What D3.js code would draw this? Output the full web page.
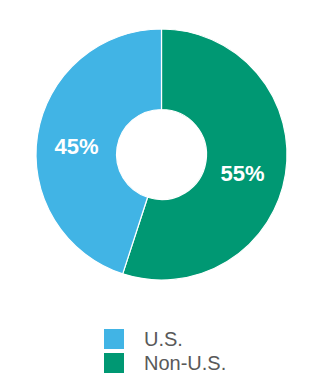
<!DOCTYPE html>
<html>
<head>
<meta charset="utf-8">
<script src="https://cdn.jsdelivr.net/npm/d3@7"></script>
<style>
  body { margin: 0; background: #fff; }
  svg { display: block; font-family: "Liberation Sans", Arial, sans-serif; }
</style>
</head>
<body>
<div id="chart"></div>
<script>
const WIDTH = 324, HEIGHT = 380;
const CX = 161.5, CY = 154.5;
const OUTER_R = 125.5, INNER_R = 45;
const LABEL_R = 84;

// data
const categories = ['Non-U.S.', 'U.S.'];
const values = [55, 45];
const colors = ['#009873', '#41b4e5'];
const legendOrder = ['U.S.', 'Non-U.S.'];

const data = categories.map((c, i) => ({ name: c, value: values[i] }));
const color = d3.scaleOrdinal().domain(categories).range(colors);

const svg = d3.select('#chart').append('svg')
    .attr('width', WIDTH)
    .attr('height', HEIGHT);

const pie = d3.pie().sort(null).value(d => d.value);
const arc = d3.arc().innerRadius(INNER_R).outerRadius(OUTER_R);
const labelArc = d3.arc().innerRadius(LABEL_R).outerRadius(LABEL_R);

const g = svg.append('g').attr('transform', `translate(${CX},${CY})`);

const slices = pie(data);

g.selectAll('path')
  .data(slices)
  .enter().append('path')
    .attr('d', arc)
    .attr('fill', d => color(d.data.name))
    .attr('stroke', '#fff')
    .attr('stroke-width', 1.2);

g.selectAll('text')
  .data(slices)
  .enter().append('text')
    .attr('x', d => labelArc.centroid(d)[0] - 2)
    .attr('y', d => labelArc.centroid(d)[1] + 5)
    .attr('dy', '0.36em')
    .attr('text-anchor', 'middle')
    .attr('fill', '#fff')
    .attr('font-size', 22)
    .attr('font-weight', 'bold')
    .text(d => d.data.value + '%');

// legend
const legend = svg.append('g').attr('transform', 'translate(104,329)');
const items = legend.selectAll('g')
  .data(legendOrder)
  .enter().append('g')
    .attr('transform', (d, i) => `translate(0,${i * 24})`);

items.append('rect')
    .attr('width', 20)
    .attr('height', 20)
    .attr('fill', d => color(d));

items.append('text')
    .attr('x', 40)
    .attr('y', 17)
    .attr('font-size', 20)
    .attr('fill', '#595959')
    .text(d => d);
</script>
</body>
</html>
